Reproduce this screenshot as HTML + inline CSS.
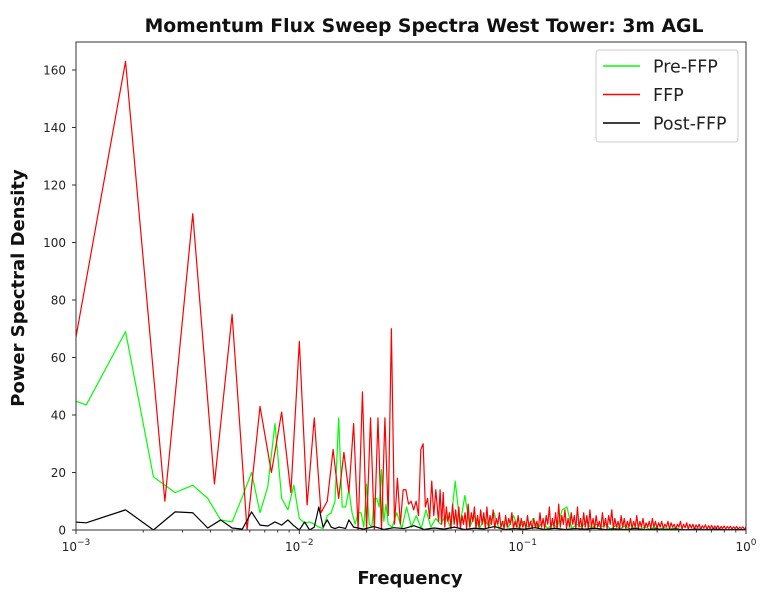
<!DOCTYPE html>
<html><head><meta charset="utf-8">
<style>
html,body{margin:0;padding:0;background:#fff;}
svg{display:block;font-family:"DejaVu Sans","Liberation Sans",sans-serif;}
</style></head>
<body>
<svg id="chart" width="765" height="601" viewBox="0 0 765 601"></svg>
<script>
// ---- data ----
const yTicks = [0,20,40,60,80,100,120,140,160];
const xDecades = [-3,-2,-1,0];
const seriesNames = ["Pre-FFP","FFP","Post-FFP"];
// FFP: frequencies k/1200, k=1..49
const ffpVals = [33,163,10,110,16,75,0,43,20,41,13,65.6,8.7,39,6,10,28,11,27,13,37,0,48,0,39,0,39,0,39,5,70,2,18,2,14,14,9,10,7,10,5,28,30,8,11,4,17,5,14];
const ffpTail = [3,14,2,13,1,8,3,6,0.5,9,2,7,1,8,0.5,5,2,6,0.5,9,1,6,3,8,0.5,5,1,7,2,6,0.5,8,1,5,2,7,0.5,4,2,6,1,3,0.5,5,1,4,2,6,0.5,3,
 1,5,0.5,4,1,3,0.5,5,1,3,0.5,4,1,3,0.5,6,1,4,0.5,5,2,8,0.5,4,1,6,0.5,9,1,5,2,7,0.5,4,1,6,2,5,0.5,8,1,4,0.5,6,1,5,0.5,7,
 1,4,0.5,5,1,3,0.5,6,1,4,0.5,5,2,7,0.5,4,1,3,0.5,5,1,4,0.5,3,1,4,0.5,3,1,5,0.5,3,1,4,0.5,2.5,1,3,0.5,4,1,3,0.5,2.5,
 1,3,0.5,2,1,3,0.3,2.5,1,2,0.3,2,1,3,0.3,2,0.8,2.5,0.3,2,0.8,2,0.3,1.8,0.8,2,0.3,1.5,0.7,1.8,0.3,1.5,0.6,1.6,0.3,1.4,
 0.6,1.5,0.3,1.2,0.5,1.4,0.3,1.2,0.5,1.3,0.3,1.1,0.5,1.2,0.3,1,0.5,1.1,0.3,1];
// Pre-FFP: frequencies k/1800, k=1..45
const preVals = [52,43.5,69,18.5,13,15.6,11,3.5,2.8,11.5,20,6,15,37,11,7,15.6,4,2.4,2.8,2,1,0.5,5,6,10,39,8,8,14,6,2,6,6,1,16,2,1,11,11,8,21,3,9,2];
const preTail = [1,6,0.5,8,1,5,0.5,7,1,4,2,5,1,17,2,12,1,5,0.5,4,1,6,0.5,3,1,5,0.5,3,1,4,0.5,3,0.5,2,1,7,8,0.5,2,1,3,0.5,2,1,2,0.3,1.5,0.5,1.5,0.3,1,0.3,1,0.3,1,0.2,0.8,0.2,0.6,0.5];
// Post-FFP: frequencies k/1800, k=1..30
const postVals = [4,2.5,7,0,6.3,6,0.7,3.5,0.7,0.3,6.3,1.7,1.4,2.8,1.7,3.5,1.5,0,2.8,0,1,8,1,3.5,1,0.5,1,0.8,0.5,3.5];
const postTail = [1,0.3,1.2,0.2,0.8,0.5,1.5,0.2,0.7,0.3,1,0.2,0.6,0.4,1.2,0.2,0.5,0.3,0.8,0.2,0.6,0.2,0.5,0.3,0.6,0.2,0.4,0.2,0.5,0.1,0.4,0.2,0.3,0.1,0.3,0.2,0.3,0.1,0.2,0.1];

// ---- axes ----
const L=76,R=746,T=42,B=530;
const xs = f => L + (Math.log10(f)+3)*(R-L)/3;
const ys = v => B - v*2.875;
const svg = document.getElementById('chart');
const NS='http://www.w3.org/2000/svg';
function mk(tag, attrs, parent){const e=document.createElementNS(NS,tag);for(const k in attrs)e.setAttribute(k,attrs[k]);(parent||svg).appendChild(e);return e;}

function buildSeries(vals, denom, tail, fTailStart, fTailEnd){
  const pts=[];
  vals.forEach((v,i)=>pts.push([(i+1)/denom, v]));
  const n=tail.length;
  tail.forEach((v,i)=>{const lf=Math.log10(fTailStart)+(Math.log10(fTailEnd)-Math.log10(fTailStart))*i/(n-1);pts.push([Math.pow(10,lf),v]);});
  return pts;
}
const series = [
  {name:"pre-ffp", color:"#00ff00", pts:buildSeries(preVals,1800,preTail,0.026,0.5)},
  {name:"ffp", color:"#ff0000", pts:buildSeries(ffpVals,1200,ffpTail,0.042,1.0)},
  {name:"post-ffp", color:"#000000", pts:buildSeries(postVals,1800,postTail,0.0175,1.0)}
];

const defs=mk('defs',{});
const cp=mk('clipPath',{id:'plotclip'},defs);
mk('rect',{x:L,y:T,width:R-L,height:B-T},cp);

const g=mk('g',{'clip-path':'url(#plotclip)'});


series.forEach(s=>{
  const d=s.pts.map((p,i)=>(i?'L':'M')+xs(p[0]).toFixed(2)+','+ys(p[1]).toFixed(2)).join(' ');
  const p=mk('path',{d:d,fill:'none',stroke:s.color,'stroke-width':1.2,'stroke-linejoin':'round'},g);
  
  
});

// frame
const fr=mk('rect',{x:L,y:T,width:R-L,height:B-T,fill:'none',stroke:'#333','stroke-width':1});



// y ticks
yTicks.forEach(v=>{
  const y=ys(v);
  mk('line',{x1:L-4,x2:L,y1:y,y2:y,stroke:'#333'});
  const t=mk('text',{x:L-10,y:y+4.5,'text-anchor':'end','font-size':12,fill:'#222'});
  t.textContent=v;
  
  
});
// x ticks
xDecades.forEach(d=>{
  const x=xs(Math.pow(10,d));
  mk('line',{x1:x,x2:x,y1:B,y2:B+4,stroke:'#333'});
  const t=mk('text',{x:x,y:B+21,'text-anchor':'middle','font-size':12,fill:'#222'});
  
  
  t.appendChild(document.createTextNode('10'));
  const sp=mk('tspan',{dy:-6,'font-size':9},t);sp.textContent='\u2212'+(-d);
  if(d===0) sp.textContent='0';
  if(d<0){for(let m=2;m<10;m++){const xm=xs(m*Math.pow(10,d));mk('line',{x1:xm,x2:xm,y1:B,y2:B+2.5,stroke:'#333'});}}
});

// titles
const tt=mk('text',{x:424,y:32,'text-anchor':'middle','font-size':18.8,'font-weight':'bold',fill:'#111'});
tt.textContent='Momentum Flux Sweep Spectra West Tower: 3m AGL';


const xl=mk('text',{x:410,y:584,'text-anchor':'middle','font-size':18,'font-weight':'bold',fill:'#111'});
xl.textContent='Frequency';


const yl=mk('text',{x:0,y:0,'text-anchor':'middle','font-size':18,'font-weight':'bold',fill:'#111',transform:'translate(24,288) rotate(-90)'});
yl.textContent='Power Spectral Density';



// legend
const lg=mk('g',{});


mk('rect',{x:596,y:50,width:142,height:92,rx:3,fill:'#fff',stroke:'#ccc'},lg);
const legColors=['#00ff00','#ff0000','#000000'];
seriesNames.forEach((n,i)=>{
  const y=66+i*28.5;
  const le=mk('g',{},lg);
  
  
  mk('line',{x1:603,x2:640,y1:y,y2:y,stroke:legColors[i],'stroke-width':1.5},le);
  const t=mk('text',{x:653,y:y+6.5,'font-size':17.5,fill:'#222'},le);
  t.textContent=n;
});
</script>
</body></html>
